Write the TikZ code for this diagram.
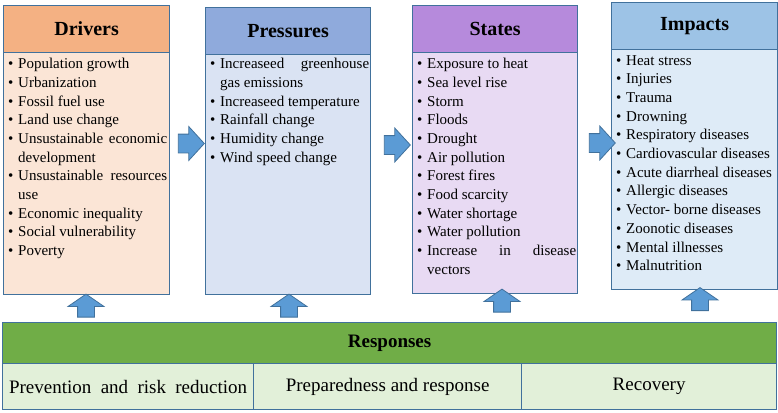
\documentclass[tikz,border=0pt]{standalone}
\usepackage{fontspec}
\setmainfont{Liberation Serif}
\usepackage{xcolor}
\usetikzlibrary{shapes.arrows, positioning}

\definecolor{edgeblue}{HTML}{41719C}
\definecolor{arrowblue}{HTML}{5B9BD5}
\definecolor{drvdark}{HTML}{F4B183}
\definecolor{drvlight}{HTML}{FBE5D6}
\definecolor{prsdark}{HTML}{8FAADC}
\definecolor{prslight}{HTML}{DAE3F3}
\definecolor{stadark}{HTML}{B68ADC}
\definecolor{stalight}{HTML}{E8DAF3}
\definecolor{impdark}{HTML}{9DC3E6}
\definecolor{implight}{HTML}{DEEBF7}
\definecolor{resdark}{HTML}{70AD47}
\definecolor{reslight}{HTML}{E2F0D9}

\hyphenpenalty=10000
\exhyphenpenalty=10000
\tolerance=9999
\newcommand{\bitem}[1]{\hangindent=10pt\hangafter=1\noindent\makebox[10pt][l]{\textbullet}#1\par}

\begin{document}
\begin{tikzpicture}[x=1pt, y=-1pt, headbox/.style={rectangle, draw=edgeblue, line width=1.2pt, inner sep=0pt, anchor=north west, font=\fontsize{20}{24}\selectfont\bfseries}, bodybox/.style={rectangle, draw=edgeblue, line width=1.2pt, inner sep=0pt, anchor=north west}, listnode/.style={anchor=north west, inner sep=0pt, text width=159pt, align=justify, font=\fontsize{15}{18.7}\selectfont}, cellbox/.style={rectangle, draw=edgeblue, line width=1.2pt, fill=reslight, inner sep=0pt, anchor=north west, minimum height=46pt, font=\fontsize{19}{22}\selectfont}, rarrow/.style={single arrow, draw=edgeblue, fill=arrowblue, line width=0.8pt, inner xsep=0pt, inner ysep=9pt, minimum height=26pt, single arrow head extend=7.5pt, single arrow tip angle=95}, uarrow/.style={single arrow, draw=edgeblue, fill=arrowblue, line width=0.8pt, inner xsep=0pt, inner ysep=8pt, minimum height=23pt, single arrow head extend=9.5pt, single arrow tip angle=111, rotate=90}]
    \useasboundingbox (0,0) rectangle (778,412);

    %Nodes
    \node[headbox, fill=drvdark, minimum width=166pt, minimum height=47pt](drivers) at (3,5){Drivers};
    \node[bodybox, fill=drvlight, minimum width=166pt, minimum height=242pt](drivers_body) at (3,52){};
    \node[listnode](drivers_list) at ([xshift=5pt,yshift=-6pt]drivers_body.north west){%
        \bitem{Population growth}
        \bitem{Urbanization}
        \bitem{Fossil fuel use}
        \bitem{Land use change}
        \bitem{Unsustainable economic development}
        \bitem{Unsustainable resources use}
        \bitem{Economic inequality}
        \bitem{Social vulnerability}
        \bitem{Poverty}};

    \node[headbox, fill=prsdark, minimum width=165pt, minimum height=47pt](pressures) at (205,7){Pressures};
    \node[bodybox, fill=prslight, minimum width=165pt, minimum height=240pt](pressures_body) at (205,54){};
    \node[listnode](pressures_list) at ([xshift=5pt,yshift=-4pt]pressures_body.north west){%
        \bitem{Increaseed greenhouse gas emissions}
        \bitem{Increaseed temperature}
        \bitem{Rainfall change}
        \bitem{Humidity change}
        \bitem{Wind speed change}};

    \node[headbox, fill=stadark, minimum width=165pt, minimum height=47pt](states) at (412,5){States};
    \node[bodybox, fill=stalight, minimum width=165pt, minimum height=241pt](states_body) at (412,52){};
    \node[listnode](states_list) at ([xshift=5pt,yshift=-6pt]states_body.north west){%
        \bitem{Exposure to heat}
        \bitem{Sea level rise}
        \bitem{Storm}
        \bitem{Floods}
        \bitem{Drought}
        \bitem{Air pollution}
        \bitem{Forest fires}
        \bitem{Food scarcity}
        \bitem{Water shortage}
        \bitem{Water pollution}
        \bitem{Increase in disease vectors}};

    \node[headbox, fill=impdark, minimum width=166pt, minimum height=47pt](impacts) at (611,2){Impacts};
    \node[bodybox, fill=implight, minimum width=166pt, minimum height=240pt](impacts_body) at (611,49){};
    \node[listnode](impacts_list) at ([xshift=5pt,yshift=-6pt]impacts_body.north west){%
        \bitem{Heat stress}
        \bitem{Injuries}
        \bitem{Trauma}
        \bitem{Drowning}
        \bitem{Respiratory diseases}
        \bitem{Cardiovascular diseases}
        \bitem{Acute diarrheal diseases}
        \bitem{Allergic diseases}
        \bitem{Vector- borne diseases}
        \bitem{Zoonotic diseases}
        \bitem{Mental illnesses}
        \bitem{Malnutrition}};

    \node[headbox, fill=resdark, minimum width=774pt, minimum height=41pt, font=\fontsize{19}{22}\selectfont\bfseries](responses) at (2,322){Responses};
    \node[cellbox, minimum width=251pt](prevention) at (2,363){\makebox[238pt][s]{Prevention and risk reduction}};
    \node[cellbox, minimum width=268pt](preparedness) at (253,363){Preparedness and response};
    \node[cellbox, minimum width=255pt](recovery) at (521,363){Recovery};

    %Arrows
    \node[rarrow](drv_prs) at (187,143.5){};
    \node[rarrow](prs_sta) at (393,145){};
    \node[rarrow](sta_imp) at (598,143){};

    \node[uarrow](res_drv) at (86,308.5){};
    \node[uarrow](res_prs) at (289,308.5){};
    \node[uarrow](res_sta) at (502,303.5){};
    \node[uarrow](res_imp) at (700,302){};

\end{tikzpicture}
\end{document}
